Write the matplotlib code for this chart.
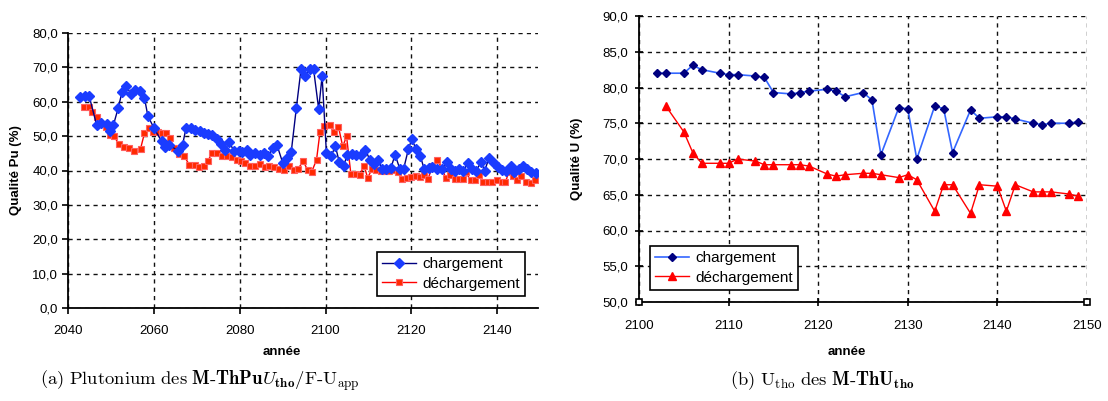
import matplotlib
matplotlib.use("Agg")
import matplotlib.pyplot as plt

plt.rcParams['font.family'] = ['Liberation Sans', 'DejaVu Sans']
plt.rcParams['mathtext.fontset'] = 'cm'

# ---------------- data: (a) Plutonium ----------------
pu_charge_years = [2042.8, 2044.0, 2044.9, 2046.7, 2047.8, 2049.1, 2049.9, 2050.6, 2051.7, 2052.6,
                   2053.6, 2054.6, 2055.6, 2056.7, 2057.8, 2058.6, 2060.0, 2061.8, 2062.6, 2063.6,
                   2065.7, 2066.7, 2067.5, 2068.6, 2069.7, 2070.8, 2071.7, 2072.7, 2073.6, 2074.7,
                   2075.7, 2076.5, 2077.6, 2078.6, 2079.8, 2080.6, 2081.6, 2082.5, 2083.6, 2084.7,
                   2085.7, 2086.6, 2087.8, 2088.7, 2090.0, 2091.0, 2092.0, 2093.2, 2094.3, 2095.3,
                   2096.3, 2097.2, 2098.4, 2099.2, 2100.2, 2101.3, 2102.3, 2103.2, 2104.2, 2105.1,
                   2106.2, 2107.1, 2108.3, 2109.3, 2110.3, 2111.3, 2112.2, 2113.2, 2114.2, 2115.2,
                   2116.2, 2117.3, 2118.2, 2119.3, 2120.1, 2121.1, 2122.1, 2123.0, 2124.0, 2124.9,
                   2126.0, 2127.1, 2128.2, 2129.2, 2130.2, 2131.1, 2132.1, 2133.1, 2134.1, 2135.1,
                   2136.2, 2137.1, 2138.1, 2139.2, 2140.1, 2141.1, 2142.1, 2143.1, 2144.0, 2145.0,
                   2146.1, 2147.0, 2147.9, 2149.0]
pu_charge_vals = [61.3, 61.8, 61.8, 53.1, 53.7, 53.5, 51.6, 53.3, 58.2, 62.9,
                  64.5, 62.4, 63.5, 63.0, 61.2, 55.9, 52.4, 48.5, 46.8, 47.3,
                  45.8, 47.5, 52.4, 52.4, 51.8, 51.4, 51.0, 50.6, 50.2, 49.3,
                  47.7, 46.0, 48.2, 45.8, 45.6, 45.3, 46.1, 44.6, 45.0, 44.4,
                  45.0, 44.2, 46.5, 47.4, 42.3, 43.7, 45.3, 58.2, 69.6, 67.5,
                  69.6, 69.6, 57.9, 67.4, 45.2, 44.3, 47.0, 42.5, 41.4, 44.6,
                  44.8, 44.5, 44.6, 46.1, 43.1, 42.0, 43.1, 40.5, 40.5, 40.6,
                  44.6, 40.5, 40.5, 46.2, 49.1, 46.2, 44.2, 40.3, 40.6, 41.0,
                  40.5, 40.3, 42.4, 40.5, 40.0, 40.5, 39.9, 42.1, 40.5, 39.9,
                  42.4, 40.0, 43.7, 42.1, 41.0, 40.2, 40.0, 41.4, 39.5, 40.5,
                  41.4, 40.5, 39.5, 39.2]

pu_decharge_years = [2043.7, 2044.8, 2045.6, 2046.8, 2047.7, 2048.9, 2049.8, 2050.7, 2051.9, 2053.0,
                     2054.2, 2055.3, 2056.9, 2057.8, 2058.8, 2059.9, 2060.9, 2061.9, 2062.9, 2063.7,
                     2064.7, 2065.8, 2067.0, 2068.3, 2069.5, 2070.6, 2071.6, 2072.6, 2073.6, 2074.7,
                     2075.9, 2077.1, 2078.2, 2079.4, 2080.4, 2081.3, 2082.5, 2083.6, 2084.8, 2085.8,
                     2086.9, 2088.1, 2089.2, 2090.3, 2091.4, 2092.6, 2093.6, 2094.8, 2095.8, 2096.8,
                     2097.9, 2098.7, 2099.7, 2101.0, 2101.9, 2103.0, 2104.0, 2104.9, 2105.9, 2107.0,
                     2108.0, 2109.0, 2109.8, 2110.8, 2111.8, 2112.9, 2113.9, 2114.8, 2116.0, 2116.9,
                     2117.8, 2118.9, 2119.9, 2121.0, 2122.0, 2123.0, 2123.9, 2124.9, 2126.0, 2127.1,
                     2128.0, 2128.9, 2130.2, 2131.1, 2132.1, 2132.7, 2133.8, 2134.8, 2135.7, 2136.7,
                     2137.8, 2138.8, 2140.0, 2141.0, 2141.9, 2142.7, 2143.6, 2144.6, 2145.6, 2146.7,
                     2147.8, 2148.9]
pu_decharge_vals = [58.6, 58.6, 56.9, 55.5, 53.5, 52.8, 50.2, 49.9, 47.7, 46.8,
                    46.5, 45.8, 46.3, 50.8, 52.4, 51.3, 51.1, 50.8, 50.8, 49.5,
                    46.5, 44.8, 44.3, 41.6, 41.6, 41.0, 41.2, 42.9, 45.0, 45.0,
                    44.3, 44.3, 43.8, 43.1, 42.7, 42.1, 41.4, 41.2, 41.9, 41.0,
                    41.4, 41.0, 40.5, 40.2, 41.4, 40.2, 40.5, 42.7, 40.2, 39.7,
                    43.1, 51.1, 53.0, 53.1, 51.1, 52.8, 47.0, 49.9, 39.0, 38.9,
                    38.7, 41.3, 37.9, 40.3, 40.2, 40.0, 39.8, 40.0, 40.2, 39.5,
                    37.6, 37.9, 38.1, 38.5, 38.1, 38.8, 37.6, 41.2, 43.1, 40.8,
                    37.8, 38.8, 37.6, 37.6, 37.6, 39.5, 37.1, 37.1, 38.8, 36.6,
                    36.6, 36.6, 37.1, 36.6, 36.6, 39.5, 38.5, 37.3, 38.5, 36.6,
                    36.4, 37.1]

pu_xticks = [2040, 2060, 2080, 2100, 2120, 2140]
pu_yticks = [0, 10, 20, 30, 40, 50, 60, 70, 80]
pu_ytick_labels = ["0,0", "10,0", "20,0", "30,0", "40,0", "50,0", "60,0", "70,0", "80,0"]

# ---------------- data: (b) Uranium ----------------
u_charge_years = [2102, 2103, 2105, 2106, 2107, 2109, 2110, 2111, 2113, 2114, 2115, 2117, 2118, 2119,
                  2121, 2122, 2123, 2125, 2126, 2127, 2129, 2130, 2131, 2133, 2134, 2135, 2137, 2138,
                  2140, 2141, 2142, 2144, 2145, 2146, 2148, 2149]
u_charge_vals = [82.0, 82.0, 82.0, 83.1, 82.5, 82.0, 81.8, 81.8, 81.6, 81.4, 79.3, 79.1, 79.3, 79.5,
                 79.75, 79.5, 78.7, 79.3, 78.25, 70.6, 77.2, 77.0, 70.0, 77.4, 77.05, 70.9, 76.85, 75.7,
                 75.9, 75.9, 75.6, 75.0, 74.8, 75.0, 75.0, 75.2]

u_decharge_years = [2103, 2105, 2106, 2107, 2109, 2110, 2111, 2113, 2114, 2115, 2117, 2118, 2119,
                    2121, 2122, 2123, 2125, 2126, 2127, 2129, 2130, 2131, 2133, 2134, 2135, 2137, 2138,
                    2140, 2141, 2142, 2144, 2145, 2146, 2148, 2149]
u_decharge_vals = [77.4, 73.8, 70.9, 69.4, 69.4, 69.4, 70.0, 69.7, 69.2, 69.2, 69.2, 69.2, 69.0,
                   67.9, 67.6, 67.8, 68.0, 68.0, 67.8, 67.4, 67.8, 67.1, 62.7, 66.4, 66.4, 62.4, 66.4,
                   66.2, 62.7, 66.4, 65.4, 65.4, 65.4, 65.1, 64.8]

u_xticks = [2100, 2110, 2120, 2130, 2140, 2150]
u_yticks = [50, 55, 60, 65, 70, 75, 80, 85, 90]
u_ytick_labels = ["50,0", "55,0", "60,0", "65,0", "70,0", "75,0", "80,0", "85,0", "90,0"]

legend_labels = ["chargement", "déchargement"]

W, H = 1108, 401
fig = plt.figure(figsize=(W / 100, H / 100), dpi=100)


def box(l, t, r, b):
    return [l / W, 1 - b / H, (r - l) / W, (b - t) / H]


tick_fs = 9.5
grid_style = dict(color='#111111', linestyle=(0, (3, 3)), linewidth=1.0)

# ---------- left axes ----------
ax1 = fig.add_axes(box(68, 33, 538, 308))
ax1.plot(pu_charge_years, pu_charge_vals, color='#000080', lw=1.0, marker='D', ms=4.6,
         mfc='#1a3cff', mec='#1a3cff', label=legend_labels[0], zorder=4)
ax1.plot(pu_decharge_years, pu_decharge_vals, color='#ff0000', lw=1.0, marker='s', ms=5.0,
         mfc='#ff2a00', mec='#ff6060', mew=0.8, label=legend_labels[1], zorder=3)
ax1.set_xlim(2040, 2149.5)
ax1.set_ylim(0, 80)
ax1.set_xticks(pu_xticks)
ax1.set_xticklabels([str(v) for v in pu_xticks])
ax1.set_yticks(pu_yticks)
ax1.set_yticklabels(pu_ytick_labels)
ax1.grid(True, **grid_style)
ax1.set_axisbelow(True)
for s in ['top', 'right']:
    ax1.spines[s].set_visible(False)
for s in ['left', 'bottom']:
    ax1.spines[s].set_linewidth(1.3)
    ax1.spines[s].set_zorder(5)
ax1.tick_params(direction='out', length=4, width=1.2, labelsize=tick_fs)
ax1.tick_params(axis='x', pad=8)
ax1.tick_params(axis='y', pad=3)
leg1 = ax1.legend(loc='lower right', bbox_to_anchor=(525 / W, 1 - 296 / H),
                  bbox_transform=fig.transFigure, fontsize=11, frameon=True, fancybox=False,
                  edgecolor='black', framealpha=1, handlelength=2.2, borderpad=0.35,
                  labelspacing=0.35, handletextpad=0.4, borderaxespad=0)
leg1.get_frame().set_linewidth(1.2)

# ---------- right axes ----------
ax2 = fig.add_axes(box(639, 16, 1087, 302))
ax2.plot(u_charge_years, u_charge_vals, color='#3366ff', lw=1.2, marker='D', ms=4.5,
         mfc='#000080', mec='#000080', label=legend_labels[0], zorder=4)
ax2.plot(u_decharge_years, u_decharge_vals, color='#ff0000', lw=1.0, marker='^', ms=6,
         mfc='#ff0000', mec='#ff0000', label=legend_labels[1], zorder=3)
ax2.plot([2100, 2150], [50, 50], ls='none', marker='s', ms=4, mfc='white', mec='black',
         mew=1.2, clip_on=False, zorder=6)
ax2.set_xlim(2100, 2150)
ax2.set_ylim(50, 90)
ax2.set_xticks(u_xticks)
ax2.set_xticklabels([str(v) for v in u_xticks])
ax2.set_yticks(u_yticks)
ax2.set_yticklabels(u_ytick_labels)
ax2.grid(True, **grid_style)
ax2.set_axisbelow(True)
for s in ['top', 'right']:
    ax2.spines[s].set_visible(False)
for s in ['left', 'bottom']:
    ax2.spines[s].set_linewidth(1.3)
    ax2.spines[s].set_zorder(5)
ax2.tick_params(direction='inout', length=6, width=1.2, labelsize=tick_fs)
ax2.tick_params(axis='x', pad=10)
ax2.tick_params(axis='y', pad=5)
leg2 = ax2.legend(loc='lower left', bbox_to_anchor=(650 / W, 1 - 290 / H),
                  bbox_transform=fig.transFigure, fontsize=11, frameon=True, fancybox=False,
                  edgecolor='black', framealpha=1, handlelength=2.2, borderpad=0.35,
                  labelspacing=0.35, handletextpad=0.4, borderaxespad=0)
leg2.get_frame().set_linewidth(1.2)

# ---------- labels ----------
fig.text(16 / W, 1 - 170 / H, "Qualité Pu (%)", rotation=90, ha='center', va='center',
         fontsize=9.5, fontweight='bold')
fig.text(577 / W, 1 - 159 / H, "Qualité U (%)", rotation=90, ha='center', va='center',
         fontsize=9.5, fontweight='bold')
fig.text(282 / W, 1 - 352 / H, "année", ha='center', va='center', fontsize=9.5, fontweight='bold')
fig.text(847 / W, 1 - 352 / H, "année", ha='center', va='center', fontsize=9.5, fontweight='bold')

fig.text(200 / W, 1 - 381 / H,
         r"$\mathrm{(a)\ Plutonium\ des\ }\mathbf{M\text{-}ThPu}U_{\mathbf{tho}}\mathrm{/F\text{-}U}_{\mathrm{app}}$",
         ha='center', va='center', fontsize=13.4)
fig.text(822 / W, 1 - 381 / H,
         r"$\mathrm{(b)\ U}_{\mathrm{tho}}\mathrm{\ des\ }\mathbf{M\text{-}ThU}_{\mathbf{tho}}$",
         ha='center', va='center', fontsize=13.4)

fig.savefig("out.png", dpi=100)
